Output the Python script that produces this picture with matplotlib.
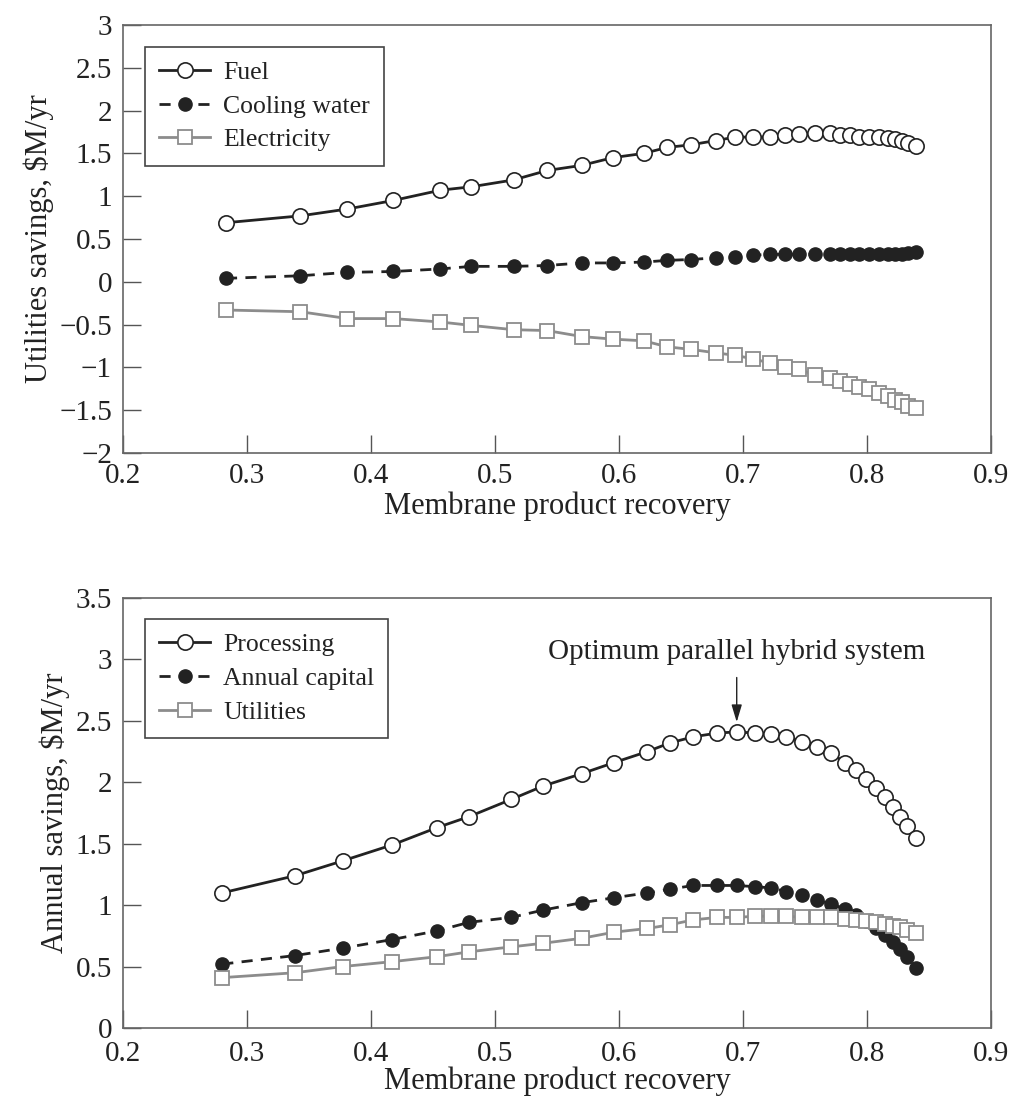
import matplotlib
matplotlib.use("Agg")
import matplotlib.pyplot as plt
from matplotlib.ticker import FuncFormatter, MultipleLocator

plt.rcParams['font.family'] = ['Liberation Serif', 'DejaVu Serif']
plt.rcParams['axes.unicode_minus'] = True

# top panel: utilities savings
x_top = [0.283, 0.343, 0.381, 0.418, 0.456, 0.481, 0.515, 0.542, 0.570, 0.595,
         0.620, 0.639, 0.658, 0.678, 0.694, 0.708, 0.722, 0.734, 0.745, 0.758,
         0.770, 0.778, 0.786, 0.794, 0.802, 0.810, 0.817, 0.823, 0.828, 0.833, 0.840]
fuel = [0.69, 0.77, 0.85, 0.95, 1.07, 1.11, 1.19, 1.30, 1.36, 1.45,
        1.50, 1.57, 1.60, 1.65, 1.69, 1.69, 1.69, 1.72, 1.73, 1.74,
        1.74, 1.72, 1.71, 1.69, 1.69, 1.69, 1.68, 1.67, 1.65, 1.62, 1.59]
cooling = [0.04, 0.07, 0.11, 0.12, 0.15, 0.18, 0.18, 0.19, 0.22, 0.22,
           0.23, 0.25, 0.26, 0.28, 0.29, 0.31, 0.32, 0.32, 0.32, 0.32,
           0.32, 0.32, 0.32, 0.32, 0.33, 0.33, 0.33, 0.33, 0.33, 0.34, 0.35]
electricity = [-0.33, -0.35, -0.43, -0.43, -0.47, -0.51, -0.56, -0.57, -0.64, -0.67,
               -0.69, -0.76, -0.79, -0.83, -0.86, -0.90, -0.95, -0.99, -1.02, -1.09,
               -1.12, -1.16, -1.20, -1.23, -1.25, -1.30, -1.33, -1.38, -1.41, -1.45, -1.48]

# bottom panel: annual savings
x_bot = [0.280, 0.339, 0.377, 0.417, 0.453, 0.479, 0.513, 0.539, 0.570, 0.596,
         0.623, 0.641, 0.660, 0.679, 0.695, 0.710, 0.723, 0.735, 0.748, 0.760,
         0.771, 0.782, 0.791, 0.799, 0.807, 0.815, 0.821, 0.827, 0.832, 0.840]
processing = [1.10, 1.24, 1.36, 1.49, 1.63, 1.72, 1.86, 1.97, 2.07, 2.16,
              2.25, 2.32, 2.37, 2.40, 2.41, 2.40, 2.39, 2.37, 2.33, 2.29,
              2.24, 2.16, 2.10, 2.03, 1.95, 1.88, 1.80, 1.72, 1.64, 1.55]
capital = [0.52, 0.59, 0.65, 0.72, 0.79, 0.86, 0.90, 0.96, 1.02, 1.06,
           1.10, 1.13, 1.16, 1.16, 1.16, 1.15, 1.14, 1.11, 1.08, 1.04,
           1.01, 0.97, 0.92, 0.87, 0.81, 0.76, 0.70, 0.64, 0.58, 0.49]
utilities = [0.41, 0.45, 0.50, 0.54, 0.58, 0.62, 0.66, 0.69, 0.73, 0.78,
             0.81, 0.84, 0.88, 0.90, 0.90, 0.91, 0.91, 0.91, 0.90, 0.90,
             0.90, 0.89, 0.88, 0.87, 0.86, 0.85, 0.83, 0.82, 0.80, 0.77]

GRAY = '#8c8c8c'
INK = '#222222'


def fmt(v, pos):
    s = '%g' % round(v, 2)
    return s.replace('-', '\u2212')


def style_axes(ax, ylim, ystep, ylabel, xpad=7, xlabelpad=2):
    ax.set_xlim(0.2, 0.9)
    ax.set_ylim(*ylim)
    ax.xaxis.set_major_locator(MultipleLocator(0.1))
    ax.yaxis.set_major_locator(MultipleLocator(ystep))
    ax.xaxis.set_major_formatter(FuncFormatter(fmt))
    ax.yaxis.set_major_formatter(FuncFormatter(fmt))
    ax.tick_params(direction='in', length=13, width=1.0, labelsize=21,
                   color='#555555', labelcolor=INK, top=False, right=False)
    ax.tick_params(axis='x', pad=xpad)
    ax.tick_params(axis='y', pad=8)
    for sp in ax.spines.values():
        sp.set_color('#666666')
        sp.set_linewidth(1.2)
    ax.set_xlabel('Membrane product recovery', fontsize=22, color=INK, labelpad=xlabelpad)
    ax.set_ylabel(ylabel, fontsize=22, color=INK, labelpad=4)


def add_legend(ax, yanchor):
    leg = ax.legend(loc='upper left', bbox_to_anchor=(0.025, yanchor), borderaxespad=0,
                    fontsize=18.5, fancybox=False, framealpha=1, edgecolor='#444444',
                    handlelength=2.0, handletextpad=0.5, labelspacing=0.42,
                    borderpad=0.55, numpoints=1)
    leg.get_frame().set_linewidth(1.2)
    for t in leg.get_texts():
        t.set_color(INK)


fig = plt.figure(figsize=(10.09, 11.01), dpi=100)
ax1 = fig.add_axes([0.122, 0.5886, 0.860, 0.3887])
ax2 = fig.add_axes([0.122, 0.0663, 0.860, 0.3906])

ax1.plot(x_top, fuel, '-', color=INK, lw=2.0, marker='o', ms=11, mfc='white',
         mec=INK, mew=1.2, label='Fuel')
ax1.plot(x_top, cooling, '--', color=INK, lw=2.0, dashes=(4, 3), marker='o', ms=9.5,
         mfc=INK, mec=INK, label='Cooling water')
ax1.plot(x_top, electricity, '-', color=GRAY, lw=2.0, marker='s', ms=10, mfc='white',
         mec=GRAY, mew=1.3, label='Electricity')
style_axes(ax1, (-2, 3), 0.5, 'Utilities savings, $M/yr')
add_legend(ax1, 0.949)

ax2.plot(x_bot, processing, '-', color=INK, lw=2.0, marker='o', ms=11, mfc='white',
         mec=INK, mew=1.2, label='Processing')
ax2.plot(x_bot, capital, '--', color=INK, lw=2.0, dashes=(4, 3), marker='o', ms=9.5,
         mfc=INK, mec=INK, label='Annual capital')
ax2.plot(x_bot, utilities, '-', color=GRAY, lw=2.0, marker='s', ms=10, mfc='white',
         mec=GRAY, mew=1.3, label='Utilities')
style_axes(ax2, (0, 3.5), 0.5, 'Annual savings, $M/yr', xpad=9, xlabelpad=0)
add_legend(ax2, 0.951)

ax2.annotate('Optimum parallel hybrid system', xy=(0.695, 2.49), xytext=(0.695, 3.06),
             ha='center', va='center', fontsize=21, color=INK,
             arrowprops=dict(arrowstyle='-|>,head_length=0.5,head_width=0.15',
                             color=INK, lw=1.0, shrinkA=7, shrinkB=0))

fig.savefig('out.png', dpi=100)
